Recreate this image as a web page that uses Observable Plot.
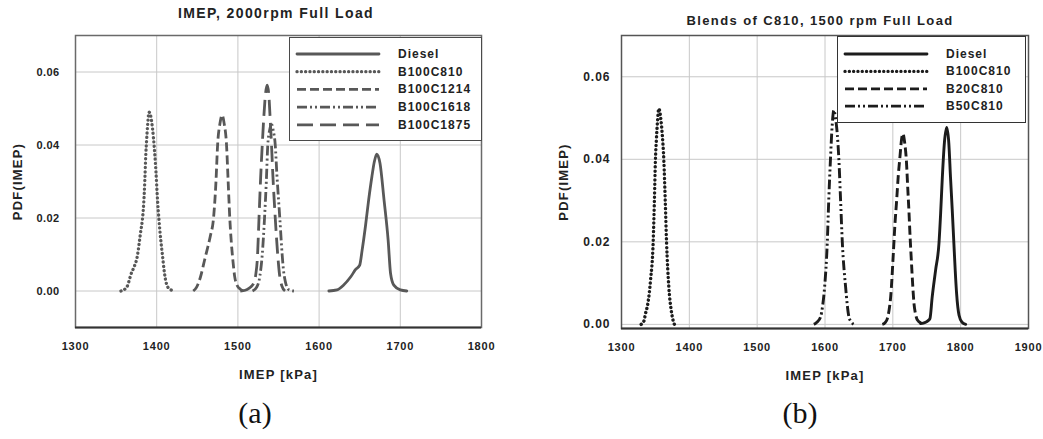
<!DOCTYPE html>
<html>
<head>
<meta charset="utf-8">
<script src="https://cdn.jsdelivr.net/npm/d3@7"></script>
<script src="https://cdn.jsdelivr.net/npm/@observablehq/plot@0.6"></script>
<style>
  html, body { margin: 0; padding: 0; background: #fff; }
  #wrap { position: relative; width: 1043px; height: 439px; overflow: hidden; background: #fff; }
  .panel { position: absolute; top: 0; }
  .panel svg text { font-family: "Liberation Sans", Arial, sans-serif; font-weight: bold; letter-spacing: 0.8px; }
  .panel svg g[aria-label="x-axis label"] text,
  .panel svg g[aria-label="y-axis label"] text { font-size: 13px; letter-spacing: 1.2px; }
  .panel svg g[aria-label="x-axis tick label"] text { font-size: 11px; }
  #pa svg g[aria-label="y-axis tick label"] text { font-size: 11px; letter-spacing: 0.4px; }
  #pb svg g[aria-label="y-axis tick label"] text { font-size: 12px; letter-spacing: 1px; }
  .title { position: absolute; font-family: "Liberation Sans", Arial, sans-serif; font-weight: bold; color: #222; letter-spacing: 1.4px; white-space: nowrap; transform: translate(-50%, -50%); }
  .cap { position: absolute; font-family: "Liberation Serif", "DejaVu Serif", serif; font-size: 30px; color: #111; transform: translate(-50%, -50%); white-space: nowrap; }
  .legend { position: absolute; background: #fff; box-sizing: border-box; }
  .legend .lab { position: absolute; font-family: "Liberation Sans", Arial, sans-serif; font-weight: bold; font-size: 12px; letter-spacing: 1px; color: #222; transform: translateY(-50%); white-space: nowrap; }
  .legend svg { position: absolute; left: 0; top: 0; }
</style>
</head>
<body>
<div id="wrap"></div>
<script>
// ---------------- Panel (a): IMEP, 2000rpm Full Load ----------------
const aTitle = "IMEP, 2000rpm Full Load";
const aXTicks = [1300, 1400, 1500, 1600, 1700, 1800];
const aYTicks = [0.00, 0.02, 0.04, 0.06];
const aSeriesNames = ["Diesel", "B100C810", "B100C1214", "B100C1618", "B100C1875"];

const aDieselX = [1612,1622,1630,1639,1645,1650,1653,1657,1661,1665,1668,1671,1675,1680,1685,1688,1692,1700,1708];
const aDieselY = [0,0.0003,0.0016,0.0039,0.0059,0.0071,0.0112,0.0176,0.0249,0.0313,0.0354,0.0375,0.035,0.0249,0.014,0.0048,0.0016,0.0003,0];

const aC810X = [1356,1363,1369,1372,1376,1380,1383,1384,1385.5,1386.5,1387.5,1389,1390.5,1392,1394,1396,1397.5,1399,1401,1403,1405,1407,1409.5,1412,1416,1422];
const aC810Y = [0,0.001,0.005,0.0065,0.0094,0.0158,0.021,0.024,0.031,0.037,0.041,0.046,0.049,0.0485,0.046,0.042,0.038,0.033,0.025,0.019,0.014,0.010,0.005,0.002,0.0005,0];

const aC1214X = [1445,1449,1454,1459,1462,1466,1470,1473,1475,1478,1480.5,1483,1486,1488,1490,1492,1494,1496,1499,1503,1508];
const aC1214Y = [0,0.001,0.0039,0.0085,0.0112,0.015,0.020,0.030,0.040,0.046,0.0482,0.046,0.040,0.030,0.020,0.013,0.008,0.004,0.0016,0.0005,0];

const aC1618X = [1518,1523,1527,1530,1532.8,1535,1536.8,1539,1541,1542,1543.5,1546,1548,1551.6,1554.5,1556,1558,1561,1564,1569];
const aC1618Y = [0,0.001,0.004,0.010,0.020,0.030,0.040,0.044,0.0455,0.0455,0.044,0.040,0.032,0.020,0.010,0.006,0.003,0.0008,0.0002,0];

const aC1875X = [1503,1509,1514,1517.6,1520,1522,1524,1526,1528,1530,1532,1534,1536,1538,1540,1541.4,1543,1546,1549,1551,1554,1558];
const aC1875Y = [0,0.0002,0.0008,0.0015,0.0025,0.0045,0.009,0.020,0.031,0.040,0.048,0.054,0.0564,0.054,0.046,0.040,0.032,0.020,0.010,0.005,0.0015,0];

// ---------------- Panel (b): Blends of C810, 1500 rpm Full Load ----------------
const bTitle = "Blends of C810, 1500 rpm Full Load";
const bXTicks = [1300, 1400, 1500, 1600, 1700, 1800, 1900];
const bYTicks = [0.00, 0.02, 0.04, 0.06];
const bSeriesNames = ["Diesel", "B100C810", "B20C810", "B50C810"];

const bDieselX = [1741,1745,1748.4,1752,1754.7,1758,1763,1768,1770.5,1773,1776,1779.4,1782.5,1785,1787.5,1790,1792,1794,1797.6,1802,1807.4];
const bDieselY = [0.0002,0.0003,0.0005,0.0009,0.0014,0.0066,0.0131,0.0196,0.027,0.0357,0.044,0.0477,0.044,0.0357,0.028,0.0196,0.013,0.0075,0.0022,0.0005,0];

const bC810X = [1329,1333,1335.4,1338.8,1342.8,1346.7,1348.5,1350,1351.5,1353,1355,1357,1360,1362.4,1364.5,1366.4,1369.8,1373.3,1376,1378];
const bC810Y = [0,0.0008,0.0026,0.005,0.0107,0.020,0.030,0.0398,0.045,0.049,0.0523,0.051,0.0462,0.0398,0.030,0.020,0.009,0.0034,0.001,0];

const bB20X = [1684.5,1688.5,1691.9,1694.5,1696.8,1700.7,1703,1705.6,1708,1710.5,1713,1715,1717.5,1720,1722,1723.7,1725.5,1727.3,1729.5,1731.2,1733.5,1736,1741,1746];
const bB20Y = [0,0.0004,0.0014,0.0035,0.0066,0.0171,0.024,0.030,0.036,0.0406,0.045,0.0462,0.044,0.0396,0.033,0.0276,0.021,0.0155,0.009,0.005,0.0025,0.0011,0.0004,0.0003];

const bB50X = [1583.6,1588,1593.5,1596.5,1599.4,1603.4,1605.5,1608,1610.5,1613,1615.5,1618,1620.5,1623,1625.5,1630.4,1635.3,1639,1642.6];
const bB50Y = [0,0.0005,0.0018,0.0045,0.009,0.020,0.030,0.0398,0.048,0.0519,0.050,0.0463,0.0398,0.030,0.020,0.009,0.0018,0.0005,0];

// ---------------- helpers ----------------
const STYLES = {
  solid:   {dash: null, cap: "round", w: 0},
  dotted:  {dash: "0.1,4.2", cap: "round", w: 0.5},
  dashed:  {dash: "9,4", cap: "butt", w: 0},
  dashdot: {dash: "10,3,2,3,2,3", cap: "butt", w: 0},
  longdash:{dash: "16,7", cap: "butt", w: 0}
};

function rows(name, xs, ys) { return xs.map((x, i) => ({series: name, x, y: ys[i]})); }

function lineMark(data, style, color, width) {
  const s = STYLES[style];
  const o = {x: "x", y: "y", stroke: color, strokeWidth: width + s.w, curve: "monotone-x", strokeLinecap: s.cap, strokeLinejoin: "round"};
  if (s.dash) o.strokeDasharray = s.dash;
  return Plot.line(data, o);
}

function buildPanel(cfg) {
  const marks = [
    Plot.gridX(cfg.xTicks.slice(1, -1), {stroke: "#c8c8c8", strokeOpacity: 1, strokeWidth: 1}),
    Plot.gridY(cfg.yTicks, {stroke: "#c8c8c8", strokeOpacity: 1, strokeWidth: 1}),
    Plot.frame({stroke: cfg.frameColor, strokeWidth: 1.5}),
    Plot.ruleY([cfg.yDomain[0]], {stroke: "#333", strokeWidth: 2}),
    ...cfg.series.map(s => lineMark(s.data, s.style, cfg.color, s.width))
  ];
  return Plot.plot({
    width: cfg.width, height: cfg.height,
    marginLeft: cfg.mL, marginRight: cfg.mR, marginTop: cfg.mT, marginBottom: cfg.mB,
    style: {color: "#222", background: "transparent", overflow: "visible"},
    x: {domain: cfg.xDomain, ticks: cfg.xTicks, tickFormat: d => String(d), tickSize: cfg.xTickSize, tickPadding: cfg.xTickPad,
        label: "IMEP [kPa]", labelAnchor: "center", labelArrow: "none", labelOffset: 51},
    y: {domain: cfg.yDomain, ticks: cfg.yTicks, tickFormat: d => d.toFixed(2), tickSize: 0, tickPadding: cfg.yTickPad,
        label: "PDF(IMEP)", labelAnchor: "center", labelArrow: "none", labelOffset: 63},
    marks
  });
}

function addLegend(parent, cfg) {
  const box = document.createElement("div");
  box.className = "legend";
  Object.assign(box.style, {left: cfg.left + "px", top: cfg.top + "px", width: cfg.w + "px", height: cfg.h + "px", border: "1.5px solid " + cfg.border});
  const ns = "http://www.w3.org/2000/svg";
  const svg = document.createElementNS(ns, "svg");
  svg.setAttribute("width", cfg.w); svg.setAttribute("height", cfg.h);
  cfg.items.forEach((it, i) => {
    const cy = cfg.firstY + i * cfg.step;
    const st = STYLES[it.style];
    const ln = document.createElementNS(ns, "line");
    ln.setAttribute("x1", 7); ln.setAttribute("x2", 89);
    ln.setAttribute("y1", cy); ln.setAttribute("y2", cy);
    ln.setAttribute("stroke", cfg.color);
    ln.setAttribute("stroke-width", 2.8 + st.w);
    if (st.dash) ln.setAttribute("stroke-dasharray", st.dash);
    ln.setAttribute("stroke-linecap", st.cap);
    svg.appendChild(ln);
    const lab = document.createElement("div");
    lab.className = "lab";
    lab.textContent = it.name;
    lab.style.left = "108px"; lab.style.top = cy + "px";
    box.appendChild(lab);
  });
  box.insertBefore(svg, box.firstChild);
  parent.appendChild(box);
}

function addText(parent, cls, text, x, y, size) {
  const d = document.createElement("div");
  d.className = cls; d.textContent = text;
  d.style.left = x + "px"; d.style.top = y + "px";
  if (size) d.style.fontSize = size + "px";
  parent.appendChild(d);
}

const wrap = document.getElementById("wrap");

// Panel (a)
const aColor = "#585858";
const aStyles = ["solid", "dotted", "dashed", "dashdot", "longdash"];
const aData = [
  rows("Diesel", aDieselX, aDieselY),
  rows("B100C810", aC810X, aC810Y),
  rows("B100C1214", aC1214X, aC1214Y),
  rows("B100C1618", aC1618X, aC1618Y),
  rows("B100C1875", aC1875X, aC1875Y)
];
const pa = document.createElement("div"); pa.className = "panel"; pa.id = "pa"; pa.style.left = "0px";
pa.appendChild(buildPanel({
  width: 520, height: 390, mL: 75, mR: 39, mT: 35, mB: 63,
  xDomain: [1300, 1800], xTicks: aXTicks, yDomain: [-0.01, 0.07], yTicks: aYTicks,
  xTickSize: 0, xTickPad: 15, yTickPad: 16, frameColor: "#6a6a6a", color: aColor,
  series: aData.map((d, i) => ({data: d, style: aStyles[i], width: 2.8}))
}));
wrap.appendChild(pa);
addLegend(wrap, {left: 289, top: 37, w: 193, h: 104, border: "#4a4a4a", color: aColor, firstY: 16, step: 17.7,
  items: aSeriesNames.map((n, i) => ({name: n, style: aStyles[i]}))});
addText(wrap, "title", aTitle, 276, 13, 14);
addText(wrap, "cap", "(a)", 255, 413);

// Panel (b)
const bColor = "#1c1c1c";
const bStyles = ["solid", "dotted", "dashed", "dashdot"];
const bData = [
  rows("Diesel", bDieselX, bDieselY),
  rows("B100C810", bC810X, bC810Y),
  rows("B20C810", bB20X, bB20Y),
  rows("B50C810", bB50X, bB50Y)
];
const pb = document.createElement("div"); pb.className = "panel"; pb.id = "pb"; pb.style.left = "520px";
pb.appendChild(buildPanel({
  width: 523, height: 390, mL: 101, mR: 15, mT: 35, mB: 62,
  xDomain: [1300, 1900], xTicks: bXTicks, yDomain: [-0.001, 0.07], yTicks: bYTicks,
  xTickSize: 0, xTickPad: 15, yTickPad: 11, frameColor: "#555", color: bColor,
  series: bData.map((d, i) => ({data: d, style: bStyles[i], width: 2.9}))
}));
wrap.appendChild(pb);
addLegend(wrap, {left: 837, top: 36, w: 189, h: 87, border: "#333", color: bColor, firstY: 17, step: 17.4,
  items: bSeriesNames.map((n, i) => ({name: n, style: bStyles[i]}))});
addText(wrap, "title", bTitle, 820, 20, 13);
addText(wrap, "cap", "(b)", 800, 413);
</script>
</body>
</html>
